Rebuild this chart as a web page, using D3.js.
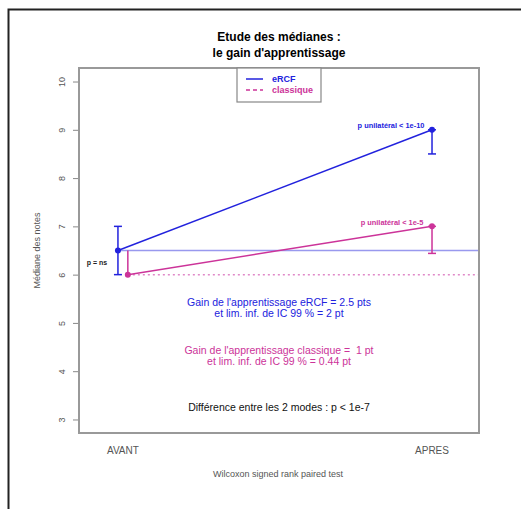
<!DOCTYPE html>
<html>
<head>
<meta charset="utf-8">
<script src="https://cdn.jsdelivr.net/npm/d3@7"></script>
<style>
  body { margin: 0; background: #fff; }
  text { font-family: "Liberation Sans", Arial, sans-serif; white-space: pre; }
</style>
</head>
<body>
<div id="chart"></div>
<script>
// data
const moments = ["AVANT", "APRES"];
const yTicks = [3, 4, 5, 6, 7, 8, 9, 10];
// medians: eRCF and classique, before / after
const ercfX = [0.984, 2.0];
const ercfY = [6.5, 9];
const classX = [1.016, 2.0];
const classY = [6, 7];
// confidence bars [x, low, high]
const errBars = [
  { x: 0.984, lo: 6, hi: 7, color: "#2222dd" },
  { x: 2.0, lo: 8.5, hi: 9, color: "#2222dd" },
  { x: 2.0, lo: 6.44, hi: 7, color: "#cc3399" },
  { x: 1.016, lo: 6, hi: 6.5, color: "#cc3399", noCap: true }
];

const W = 521, H = 509;
const box = { left: 79, right: 479, top: 68, bottom: 433 };

const svg = d3.select("#chart").append("svg")
  .attr("width", W).attr("height", H);

// outer frame (goes past the window)
svg.append("rect")
  .attr("x", 8.5).attr("y", 9.5)
  .attr("width", 540).attr("height", 540)
  .attr("fill", "none").attr("stroke", "#222").attr("stroke-width", 2);

const x = d3.scaleLinear().domain([0.858, 2.152]).range([box.left, box.right]);
const y = d3.scaleLinear().domain([2.72, 10.28]).range([box.bottom, box.top]);

// title
svg.append("text").attr("x", 279).attr("y", 41).attr("text-anchor", "middle")
  .attr("font-size", 12).attr("font-weight", "bold").text("Etude des médianes :");
svg.append("text").attr("x", 279).attr("y", 57).attr("text-anchor", "middle")
  .attr("font-size", 12).attr("font-weight", "bold").text("le gain d'apprentissage");

// y axis
const yAxis = svg.append("g")
  .attr("transform", `translate(${box.left - 1},0)`)
  .call(d3.axisLeft(y).tickValues(yTicks).tickSize(5).tickFormat(d3.format("d")));
yAxis.select(".domain").remove();
yAxis.selectAll(".tick line").attr("stroke", "#888");
yAxis.selectAll(".tick text")
  .attr("fill", "#555").attr("font-size", 9)
  .attr("transform", "translate(-16,0) rotate(-90)")
  .attr("x", 0).attr("y", 0).attr("dy", "0.35em")
  .attr("text-anchor", "middle");

svg.append("text")
  .attr("transform", `translate(40,${(box.top + box.bottom) / 2}) rotate(-90)`)
  .attr("text-anchor", "middle").attr("font-size", 9).attr("fill", "#555")
  .text("Médiane des notes");

// x labels
svg.selectAll(".xlab").data(moments).join("text")
  .attr("class", "xlab")
  .attr("x", (d, i) => x(i + 1)).attr("y", 454)
  .attr("text-anchor", "middle").attr("font-size", 10).attr("fill", "#555")
  .text(d => d);
svg.append("text").attr("x", 278).attr("y", 477).attr("text-anchor", "middle")
  .attr("font-size", 9).attr("fill", "#555").text("Wilcoxon signed rank paired test");

// reference lines
svg.append("line")
  .attr("x1", x(ercfX[0])).attr("x2", box.right)
  .attr("y1", y(ercfY[0])).attr("y2", y(ercfY[0]))
  .attr("stroke", "#9999ee").attr("stroke-width", 1.5);
svg.append("line")
  .attr("x1", x(classX[0])).attr("x2", box.right)
  .attr("y1", y(classY[0])).attr("y2", y(classY[0]))
  .attr("stroke", "#e088c8").attr("stroke-width", 1.5).attr("stroke-dasharray", "2,3");

// error bars
errBars.forEach(b => {
  svg.append("line")
    .attr("x1", x(b.x)).attr("x2", x(b.x))
    .attr("y1", y(b.lo)).attr("y2", y(b.hi))
    .attr("stroke", b.color).attr("stroke-width", 1.5);
  if (!b.noCap) {
    [b.lo, b.hi].forEach(v => {
      svg.append("line")
        .attr("x1", x(b.x) - 4).attr("x2", x(b.x) + 4)
        .attr("y1", y(v)).attr("y2", y(v))
        .attr("stroke", b.color).attr("stroke-width", 1.5);
    });
  }
});

// median lines
const line = d3.line().x(d => x(d[0])).y(d => y(d[1]));
svg.append("path").datum(d3.zip(ercfX, ercfY))
  .attr("d", line).attr("fill", "none").attr("stroke", "#2222dd").attr("stroke-width", 1.5);
svg.append("path").datum(d3.zip(classX, classY))
  .attr("d", line).attr("fill", "none").attr("stroke", "#cc3399").attr("stroke-width", 1.5);

svg.selectAll(".pe").data(d3.zip(ercfX, ercfY)).join("circle")
  .attr("cx", d => x(d[0])).attr("cy", d => y(d[1])).attr("r", 3).attr("fill", "#2222dd");
svg.selectAll(".pc").data(d3.zip(classX, classY)).join("circle")
  .attr("cx", d => x(d[0])).attr("cy", d => y(d[1])).attr("r", 3).attr("fill", "#cc3399");

// plot box
svg.append("rect")
  .attr("x", box.left).attr("y", box.top)
  .attr("width", box.right - box.left).attr("height", box.bottom - box.top)
  .attr("fill", "none").attr("stroke", "#999").attr("stroke-width", 2);

// legend
svg.append("rect")
  .attr("x", 237).attr("y", box.top).attr("width", 84).attr("height", 34)
  .attr("fill", "#fff").attr("stroke", "#888").attr("stroke-width", 1.2);
svg.append("line").attr("x1", 246).attr("x2", 263).attr("y1", 79).attr("y2", 79)
  .attr("stroke", "#2222dd").attr("stroke-width", 1.5);
svg.append("line").attr("x1", 246).attr("x2", 263).attr("y1", 90).attr("y2", 90)
  .attr("stroke", "#cc3399").attr("stroke-width", 1.5).attr("stroke-dasharray", "4,3");
svg.append("text").attr("x", 272).attr("y", 82).attr("font-size", 9).attr("font-weight", "bold")
  .attr("fill", "#2222dd").text("eRCF");
svg.append("text").attr("x", 272).attr("y", 93).attr("font-size", 9).attr("font-weight", "bold")
  .attr("fill", "#cc3399").text("classique");

// annotations
const note = (tx, ty, s, color, size, bold) => svg.append("text")
  .attr("x", tx).attr("y", ty).attr("text-anchor", "middle")
  .attr("font-size", size).attr("font-weight", bold ? "bold" : "normal")
  .attr("fill", color).text(s);

note(97, 265, "p = ns", "#222", 7, true);
note(391, 128, "p unilatéral < 1e-10", "#2222dd", 7.4, true);
note(392, 225, "p unilatéral < 1e-5", "#cc3399", 7.4, true);
note(279, 306, "Gain de l'apprentissage eRCF = 2.5 pts", "#2222dd", 10.5, false);
note(279, 317, "et lim. inf. de IC 99 % = 2 pt", "#2222dd", 10.5, false);
note(279, 354, "Gain de l'apprentissage classique =  1 pt", "#cc3399", 10.5, false);
note(279, 365, "et lim. inf. de IC 99 % = 0.44 pt", "#cc3399", 10.5, false);
note(279, 411, "Différence entre les 2 modes : p < 1e-7", "#111", 10.5, false);
</script>
</body>
</html>
